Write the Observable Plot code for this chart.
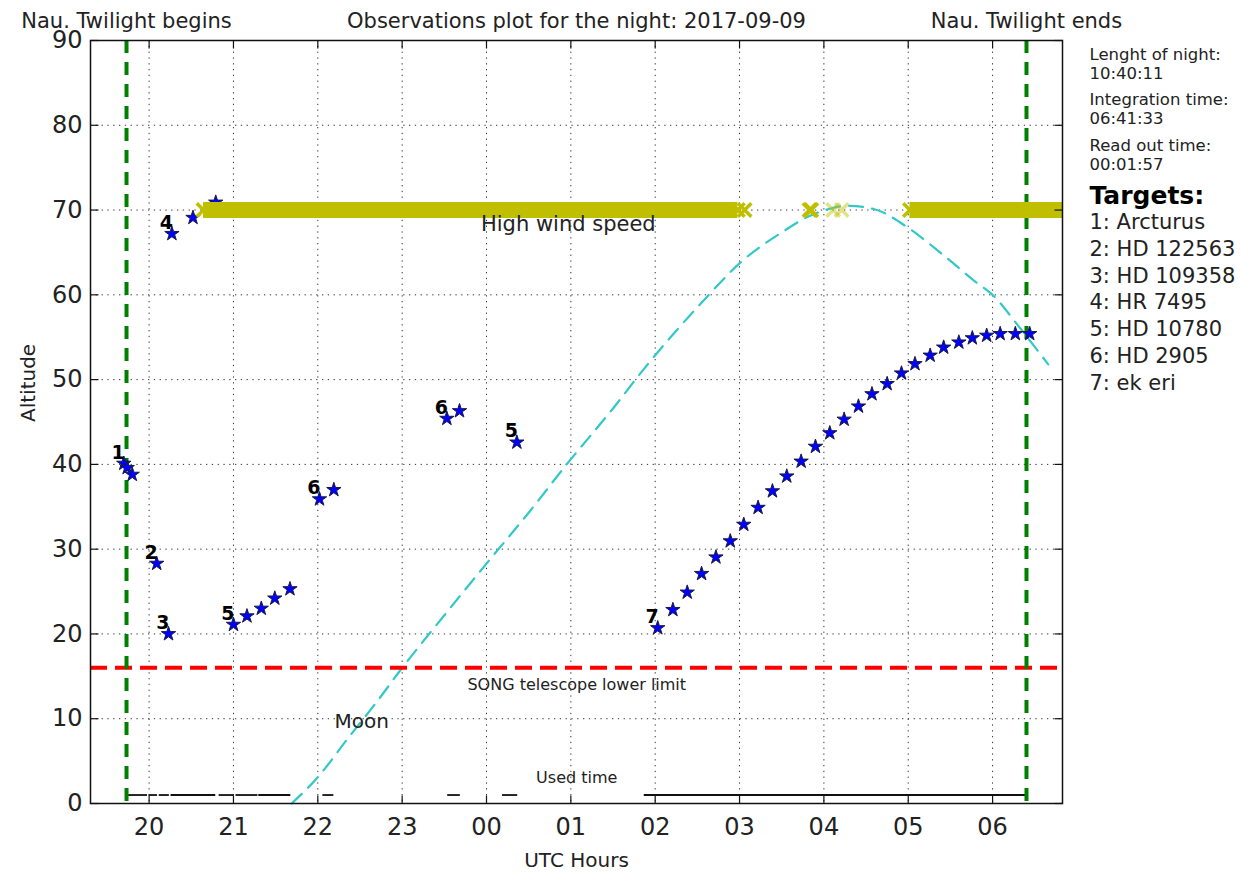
<!DOCTYPE html>
<html><head><meta charset="utf-8">
<script src="https://cdn.jsdelivr.net/npm/d3@7"></script>
<script src="https://cdn.jsdelivr.net/npm/@observablehq/plot@0.6"></script>
<style>body{margin:0;background:#fff;} #chart{width:1241px;height:872px;}</style>
</head><body><div id="chart"></div>
<script>
const FONT = "DejaVu Sans, Liberation Sans, sans-serif";
const title = "Observations plot for the night: 2017-09-09";
const twilightLabels = ["Nau. Twilight begins", "Nau. Twilight ends"];
const twilightHours = [19.732, 30.402];
const xDomain = [19.305, 30.829];
const xTicks = [20, 21, 22, 23, 24, 25, 26, 27, 28, 29, 30];
const yTicks = [0, 10, 20, 30, 40, 50, 60, 70, 80, 90];
const lowerLimit = [16];

// observed targets (stars): hour (24+ = after midnight), altitude, target number, block
const starHours = [19.70, 19.74, 19.80, 20.09, 20.23, 20.27, 20.52, 20.79,
  21.00, 21.16, 21.33, 21.49, 21.67, 22.02, 22.19, 23.53, 23.68, 24.36,
  26.03, 26.21, 26.38, 26.55, 26.72, 26.89, 27.05, 27.22, 27.39, 27.56, 27.73, 27.90, 28.07, 28.24,
  28.41, 28.57, 28.75, 28.92, 29.08, 29.26, 29.42, 29.60, 29.76, 29.93, 30.09, 30.27, 30.44];
const starAlts = [40.1, 39.6, 38.8, 28.3, 20.0, 67.2, 69.1, 70.9,
  21.1, 22.1, 23.0, 24.2, 25.3, 35.9, 37.0, 45.4, 46.3, 42.6,
  20.7, 22.85, 24.9, 27.1, 29.05, 30.95, 32.9, 34.9, 36.85, 38.6, 40.35, 42.1, 43.7, 45.3,
  46.85, 48.3, 49.5, 50.75, 51.85, 52.85, 53.8, 54.4, 54.9, 55.2, 55.4, 55.4, 55.4];
const starTargets = [1, 1, 1, 2, 3, 4, 4, 4, 5, 5, 5, 5, 5, 6, 6, 6, 6, 5,
  7, 7, 7, 7, 7, 7, 7, 7, 7, 7, 7, 7, 7, 7, 7, 7, 7, 7, 7, 7, 7, 7, 7, 7, 7, 7, 7];
const starBlocks = [0, 0, 0, 1, 2, 3, 3, 3, 4, 4, 4, 4, 4, 5, 5, 6, 6, 7,
  8, 8, 8, 8, 8, 8, 8, 8, 8, 8, 8, 8, 8, 8, 8, 8, 8, 8, 8, 8, 8, 8, 8, 8, 8, 8, 8];

// moon altitude
const moonHours = [21.69, 22.0, 22.35, 22.7, 23.0, 23.5, 24.0, 24.5, 24.95, 25.5, 25.87, 26.2, 26.58,
  27.02, 27.49, 27.81, 28.05, 28.28, 28.6, 29.0, 29.39, 29.79, 30.02, 30.3, 30.66];
const moonAlts = [0, 3.1, 7.6, 12.0, 16.0, 22.2, 28.3, 34.3, 40.0, 46.6, 51.3, 55.2, 59.4,
  63.9, 67.3, 69.2, 70.1, 70.5, 70.1, 67.9, 64.9, 61.6, 59.8, 56.4, 51.8];

// high wind speed
const windAlt = 70;
const windStart = [20.645, 29.02];
const windEnd = [26.98, 31.2];
const windMarkHours = [20.645, 26.98, 27.06, 27.83, 27.85, 28.11, 28.21, 29.02];
const windMarkAlpha = [1, 1, 1, 1, 1, 0.45, 0.45, 1];

// used time
const usedAlt = 1;
const usedStart = [19.744, 20.0, 20.12, 20.26, 20.83, 21.03, 21.30, 22.06, 23.54, 24.19, 25.87];
const usedEnd = [19.981, 20.10, 20.24, 20.79, 21.01, 21.29, 21.68, 22.19, 23.69, 24.37, 30.42];

// side panel
const infoLines = ["Lenght of night:", "10:40:11", "Integration time:", "06:41:33", "Read out time:", "00:01:57"];
const targetsTitle = "Targets:";
const targetNames = ["Arcturus", "HD 122563", "HD 109358", "HR 7495", "HD 10780", "HD 2905", "ek eri"];

// annotations (hour, altitude)
const windLabel = {text: "High wind speed", hour: 24.97, alt: 68.3};
const moonLabel = {text: "Moon", hour: 22.52, alt: 9.7};
const limitLabel = {text: "SONG telescope lower limit", hour: 25.07, alt: 14.0};
const usedLabel = {text: "Used time", hour: 25.07, alt: 3.0};
const xLabel = "UTC Hours";
const yLabel = "Altitude";

const stars = starHours.map((h, i) => ({h, a: starAlts[i], t: starTargets[i], b: starBlocks[i]}));
const labels = stars.filter((d, i) => i === 0 || starBlocks[i] !== starBlocks[i - 1]);
const moon = moonHours.map((h, i) => ({h, a: moonAlts[i]}));

const tickUp = {draw(c) { c.moveTo(0, 0); c.lineTo(0, -8); }};
const tickDown = {draw(c) { c.moveTo(0, 0); c.lineTo(0, 8); }};
const tickRight = {draw(c) { c.moveTo(0, 0); c.lineTo(8, 0); }};
const tickLeft = {draw(c) { c.moveTo(0, 0); c.lineTo(-8, 0); }};

const annot = (L, size) => Plot.text([L], {x: "hour", y: "alt", text: "text", fontSize: size, fill: "#222", lineAnchor: "middle"});

const chart = Plot.plot({
  width: 1241, height: 872,
  marginLeft: 90, marginRight: 179, marginTop: 40, marginBottom: 69,
  style: {fontFamily: FONT, fontSize: "24px", background: "white", color: "#222", overflow: "visible"},
  x: {domain: xDomain, ticks: xTicks, tickFormat: d => String(d % 24).padStart(2, "0"), tickSize: 0, tickPadding: 14, label: null},
  y: {domain: [0, 90], ticks: yTicks, tickSize: 0, tickPadding: 8, label: null},
  marks: [
    Plot.ruleX(xTicks, {x: d => d, stroke: "#333", strokeWidth: 1, strokeDasharray: "1.3,4.5"}),
    Plot.ruleY(yTicks, {y: d => d, stroke: "#333", strokeWidth: 1, strokeDasharray: "1.3,4.5"}),
    Plot.ruleY(usedStart, {y: usedAlt, x1: d => d, x2: (d, i) => usedEnd[i], stroke: "#111", strokeWidth: 1.8}),
    Plot.line(moon, {x: "h", y: "a", stroke: "#33c8c8", strokeWidth: 2.2, strokeDasharray: "14,9", curve: "monotone-x"}),
    Plot.ruleY(lowerLimit, {y: d => d, stroke: "#ff0000", strokeWidth: 4, strokeDasharray: "17,8"}),
    Plot.ruleX(twilightHours, {x: d => d, stroke: "#008000", strokeWidth: 4, strokeDasharray: "13,9"}),
    Plot.dot(stars, {x: "h", y: "a", symbol: "star", r: 4.5, fill: "#0000ff", stroke: "#1a1a40", strokeWidth: 1}),
    Plot.text(labels, {x: "h", y: "a", text: d => String(d.t), fontSize: 19, fontWeight: "bold", fill: "#000", textAnchor: "end", lineAnchor: "bottom", dx: 1, dy: -5}),
    Plot.ruleY(windStart, {y: windAlt, x1: d => d, x2: (d, i) => windEnd[i], stroke: "#bfbf00", strokeWidth: 16, clip: true}),
    Plot.dot(windMarkHours, {x: d => d, y: windAlt, symbol: "times", r: 6.2, stroke: "#bfbf00", strokeWidth: 3.5, strokeOpacity: (d, i) => windMarkAlpha[i]}),
    annot(windLabel, 21),
    annot(moonLabel, 20),
    annot(limitLabel, 16),
    annot(usedLabel, 16),
    Plot.frame({stroke: "#111", strokeWidth: 1.5}),
    Plot.dot(xTicks, {x: d => d, frameAnchor: "bottom", symbol: tickUp, fill: "none", stroke: "#111", strokeWidth: 1.2}),
    Plot.dot(xTicks, {x: d => d, frameAnchor: "top", symbol: tickDown, fill: "none", stroke: "#111", strokeWidth: 1.2}),
    Plot.dot(yTicks, {y: d => d, frameAnchor: "left", symbol: tickRight, fill: "none", stroke: "#111", strokeWidth: 1.2}),
    Plot.dot(yTicks, {y: d => d, frameAnchor: "right", symbol: tickLeft, fill: "none", stroke: "#111", strokeWidth: 1.2}),
    Plot.text([title], {text: d => d, frameAnchor: "top", dy: -19, fontSize: 21, fill: "#222", lineAnchor: "middle"}),
    Plot.text(twilightHours, {x: d => d, text: (d, i) => twilightLabels[i], frameAnchor: "top", dy: -19, fontSize: 21, fill: "#222", lineAnchor: "middle"}),
    Plot.text([xLabel], {text: d => d, frameAnchor: "bottom", dy: 57, fontSize: 20, fill: "#222", lineAnchor: "middle"}),
    Plot.text([yLabel], {text: d => d, frameAnchor: "left", dx: -62, rotate: -90, fontSize: 20, fill: "#222", lineAnchor: "middle"}),
    ...infoLines.map((t, i) => Plot.text([t], {text: d => d, frameAnchor: "top-right", dx: 27, dy: 14 + 45.5 * Math.floor(i / 2) + 19 * (i % 2), textAnchor: "start", lineAnchor: "middle", fontSize: 16.5, fill: "#222"})),
    Plot.text([targetsTitle], {text: d => d, frameAnchor: "top-right", dx: 27, dy: 155, textAnchor: "start", lineAnchor: "middle", fontSize: 25, fontWeight: "bold", fill: "#000"}),
    ...targetNames.map((n, i) => Plot.text([`${i + 1}: ${n}`], {text: d => d, frameAnchor: "top-right", dx: 27, dy: 181.5 + 26.9 * i, textAnchor: "start", lineAnchor: "middle", fontSize: 21, fill: "#222"}))
  ]
});
document.getElementById("chart").appendChild(chart);
</script>
</body></html>
